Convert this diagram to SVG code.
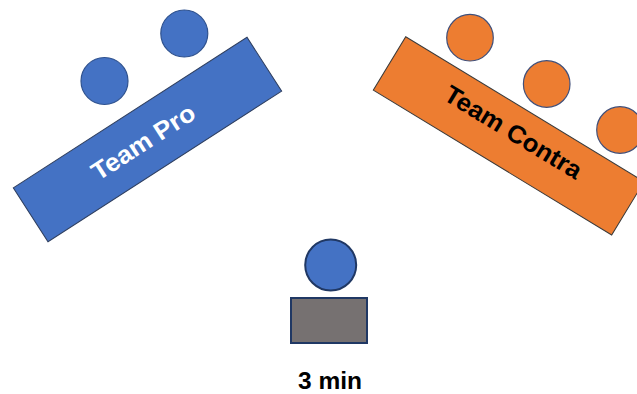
<svg xmlns="http://www.w3.org/2000/svg" width="637" height="394" viewBox="0 0 637 394">
<style>
.blue{fill:#4472c4;stroke:#2f3f5f;stroke-width:1}
.orange{fill:#ed7d31;stroke:#3a3a3a;stroke-width:1}
.pb{fill:#4472c4;stroke:#2f528f;stroke-width:1.2}
.po{fill:#ed7d31;stroke:#41507a;stroke-width:1.2}
.lbl{font-family:"Liberation Sans",Arial,sans-serif;font-weight:bold;text-anchor:middle}
</style>
<rect width="637" height="394" fill="#ffffff"/>
<g id="team-pro">
<circle class="pb" cx="104.5" cy="81" r="23.5"/>
<circle class="pb" cx="184.3" cy="33.5" r="23.5"/>
<g transform="translate(147.5,139.5) rotate(-32.8)">
<rect class="blue" x="-139" y="-32" width="278" height="64"/>
<text class="lbl" x="-5" y="8.5" font-size="25" fill="#ffffff" textLength="118" lengthAdjust="spacingAndGlyphs">Team Pro</text>
</g>
</g>
<g id="team-contra">
<circle class="po" cx="470" cy="37.7" r="23.3"/>
<circle class="po" cx="546.7" cy="84" r="23.3"/>
<circle class="po" cx="620" cy="130" r="23.3"/>
<g transform="translate(508.7,135.9) rotate(31.3)">
<rect class="orange" x="-139.5" y="-31.2" width="279" height="62.4"/>
<text class="lbl" x="2" y="3" font-size="25" fill="#000000" textLength="156" lengthAdjust="spacingAndGlyphs">Team Contra</text>
</g>
</g>
<g id="speaker">
<circle cx="330.7" cy="265" r="25.5" fill="#4472c4" stroke="#203864" stroke-width="2"/>
<rect x="291" y="298" width="76" height="45" fill="#767171" stroke="#203864" stroke-width="2"/>
<text class="lbl" x="330" y="389" font-size="23" fill="#000000" textLength="64" lengthAdjust="spacingAndGlyphs">3 min</text>
</g>
<g id="connectors"></g>
</svg>
